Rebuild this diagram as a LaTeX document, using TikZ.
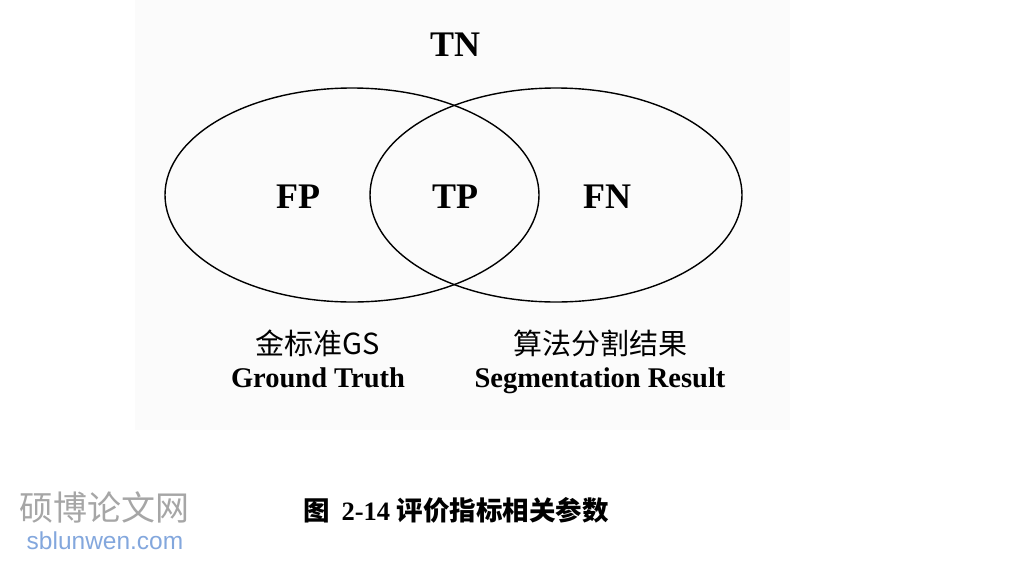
\documentclass[tikz,border=0pt]{standalone}
\usepackage{fontspec}
\setmainfont{Liberation Serif}
\newfontfamily\cjk{Noto Sans CJK SC}
\newfontfamily\cjkb{Noto Sans CJK SC Bold}
\newfontfamily\sansf{Liberation Sans}
\begin{document}
\begin{tikzpicture}[x=1pt,y=-1pt,
  big/.style={font=\fontsize{36}{36}\selectfont\bfseries},
  cn/.style={font=\fontsize{29}{29}\selectfont\cjk},
  en/.style={font=\fontsize{28.5}{28.5}\selectfont\bfseries,anchor=base},
  ell/.style={draw=black,line width=1.4pt}]
\useasboundingbox (0,0) rectangle (1027,560);
\fill[black!1.5] (135,0) rectangle (790,430);
\draw[ell] (352,195) ellipse [x radius=187,y radius=107];
\draw[ell] (556,195) ellipse [x radius=186,y radius=107];
\node[big] (tn) at (455,45) {TN};
\node[big] (fp) at (298,197) {FP};
\node[big] (tp) at (455,197) {TP};
\node[big] (fn) at (607,197) {FN};
\node[cn] (gs) at (318,343) {金标准GS};
\node[en] (gt) at (318,387) {Ground Truth};
\node[cn] (sf) at (600,343) {算法分割结果};
\node[en] (sr) at (600,387) {Segmentation Result};
\node[font=\fontsize{26.5}{26.5}\selectfont\bfseries] (cap) at (456,510) {{\cjkb 图}\hspace{12pt}2-14 {\cjkb 评价指标相关参数}};
\node[font=\fontsize{34}{34}\selectfont\cjk,text=black!35] (wm) at (104,507) {硕博论文网};
\node[font=\fontsize{24.5}{24.5}\selectfont\sansf,text=cyan!50!blue!50] (url) at (105,541) {sblunwen.com};
\end{tikzpicture}
\end{document}
